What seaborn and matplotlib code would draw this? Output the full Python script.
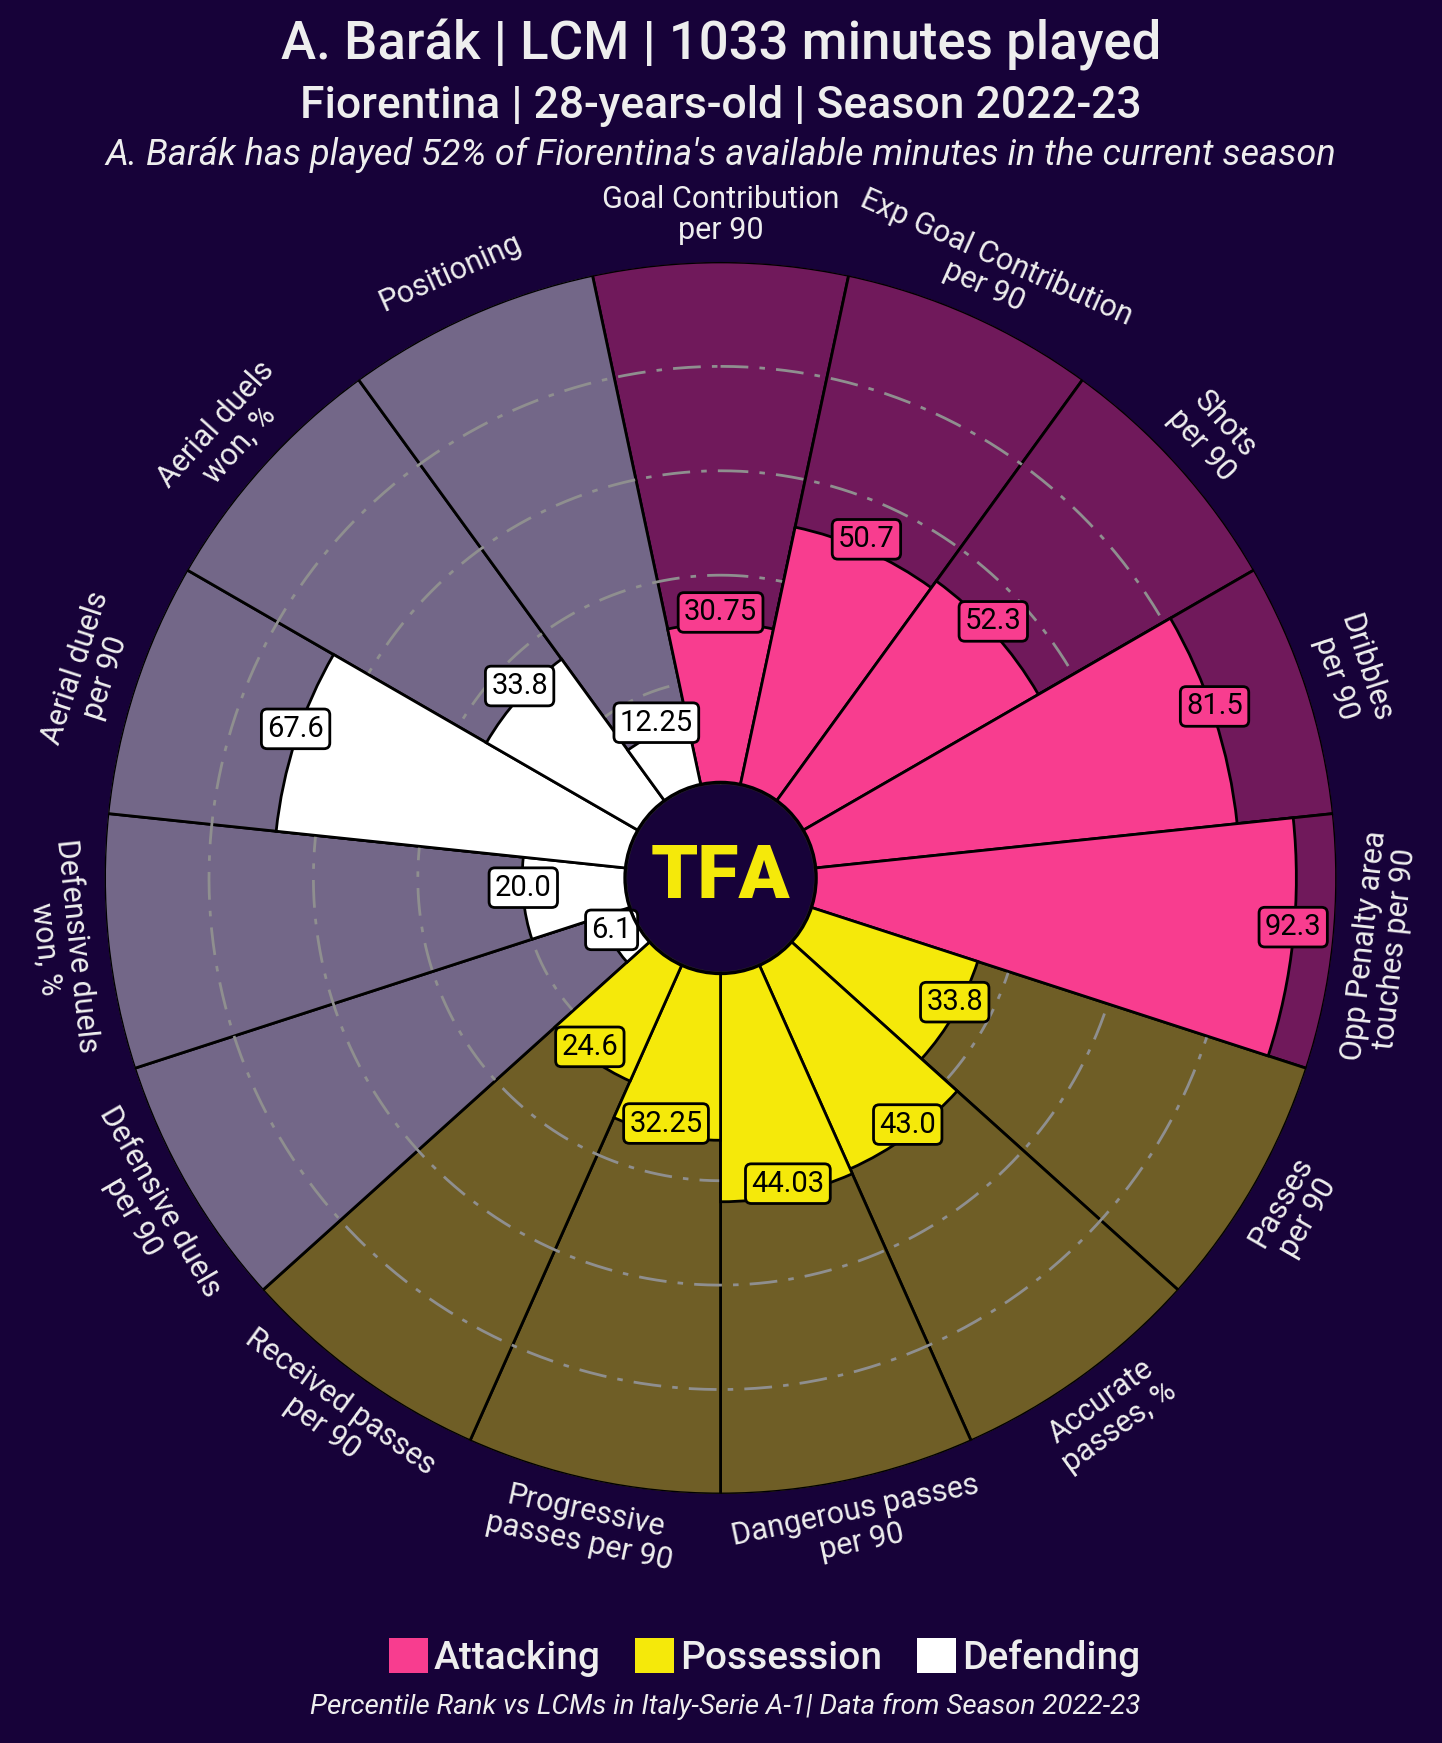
import numpy as np
import matplotlib
matplotlib.use("Agg")
import matplotlib.pyplot as plt
import matplotlib.transforms as mtransforms
from matplotlib.patches import Patch, Circle
import seaborn as sns

# data
params = ["Goal Contribution\nper 90", "Exp Goal Contribution\nper 90", "Shots\nper 90",
          "Dribbles\nper 90", "Opp Penalty area\ntouches per 90",
          "Passes\nper 90", "Accurate\npasses, %", "Dangerous passes\nper 90",
          "Progressive\npasses per 90", "Received passes\nper 90",
          "Defensive duels\nper 90", "Defensive duels\nwon, %", "Aerial duels\nper 90",
          "Aerial duels\nwon, %", "Positioning"]
values = [30.75, 50.7, 52.3, 81.5, 92.3,
          33.8, 43.0, 44.03, 32.25, 24.6,
          6.1, 20.0, 67.6, 33.8, 12.25]
groups = ["Attacking"] * 5 + ["Possession"] * 5 + ["Defending"] * 5
group_names = ["Attacking", "Possession", "Defending"]

BG = "#170239"
TXT = "#EEEEEE"
palette = dict(zip(group_names, ["#F83D8F", "#F5E90A", "#FFFFFF"]))

sns.set_style("white")
plt.rcParams['font.family'] = ['Roboto', 'DejaVu Sans']

fig = plt.figure(figsize=(14.42, 17.43), dpi=100, facecolor=BG)
ax = fig.add_axes([0.0725, 0.1429, 0.8544, 0.7068], projection="polar")
ax.set_facecolor(BG)
ax.set_theta_offset(np.pi / 2)
ax.set_theta_direction(-1)
ax.set_ylim(0, 100)
ax.set_rorigin(-18)

n = len(params)
width = 2 * np.pi / n
theta = np.arange(n) * width
cols = [palette[g] for g in groups]
bg_cols = [matplotlib.colors.to_rgba(c, 0.4) for c in cols]

# slice backgrounds
ax.bar(theta, [100] * n, width=width, bottom=0, color=bg_cols,
       edgecolor="black", linewidth=2, zorder=1)
# grid circles
tt = np.linspace(0, 2 * np.pi, 500)
for r in [20, 40, 60, 80]:
    ax.plot(tt, [r] * len(tt), color="#8F8F8F", lw=2, zorder=2,
            dashes=(10, 4, 2, 4))
# value bars
ax.bar(theta, values, width=width, bottom=0, color=cols,
       edgecolor="black", linewidth=2, zorder=3)

# value labels (nudged up a little)
lift = mtransforms.offset_copy(ax.transData, fig=fig, x=0, y=11, units="dots")
for t, v, c in zip(theta, values, cols):
    ax.text(t, v, str(v), ha="center", va="center", fontsize=21, color="black", zorder=5,
            transform=lift,
            bbox=dict(boxstyle="round,pad=0.2", fc=c, ec="black", lw=2))

# param labels
for t, p in zip(theta, params):
    ang = (90 - np.degrees(t)) % 360
    rot = ang - 90 if ang <= 180 else ang + 90
    ax.text(t, 109, p, ha="center", va="center", rotation=rot, rotation_mode="anchor",
            fontsize=22, color=TXT, linespacing=1.1)

ax.set_xticks([])
ax.set_yticks([])
ax.grid(False)
ax.spines["polar"].set_visible(False)

# centre circle + logo
ax.add_patch(Circle((0.5, 0.5), 0.0775, transform=ax.transAxes, fc=BG, ec="black",
                    lw=2.5, zorder=6))
ax.text(0.5, 0.5, "TFA", transform=ax.transAxes, ha="center", va="center",
        fontsize=54, fontweight="black", color="#F5E90A", zorder=7)

# titles
fig.text(0.5, 0.974, "A. Barák | LCM | 1033 minutes played", ha="center", va="center",
         fontsize=38, fontweight="medium", color=TXT)
fig.text(0.5, 0.939, "Fiorentina | 28-years-old | Season 2022-23", ha="center", va="center",
         fontsize=32, fontweight="medium", color=TXT)
fig.text(0.5, 0.911, "A. Barák has played 52% of Fiorentina's available minutes in the current season",
         ha="center", va="center", fontsize=26, style="italic", color=TXT)

handles = [Patch(fc=palette[g], ec="none") for g in group_names]
fig.legend(handles, group_names, loc="center", bbox_to_anchor=(0.53, 0.049), ncol=3,
           frameon=False, labelcolor=TXT, handlelength=1.0, handleheight=1.0,
           handletextpad=0.15, columnspacing=0.9, prop={"weight": "medium", "size": 28})
fig.text(0.503, 0.021, "Percentile Rank vs LCMs in Italy-Serie A-1| Data from Season 2022-23",
         ha="center", va="center", fontsize=20, style="italic", color=TXT)

fig.savefig("out.png", dpi=100, facecolor=BG)
